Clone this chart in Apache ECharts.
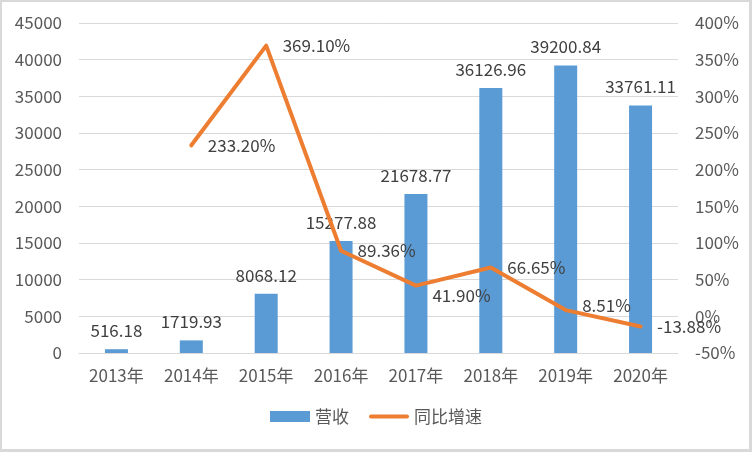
<!DOCTYPE html>
<html>
<head>
<meta charset="utf-8">
<script src="https://cdn.jsdelivr.net/npm/echarts@6/dist/echarts.min.js"></script>
<style>
html,body{margin:0;padding:0;background:#fff;}
#wrap{position:relative;width:752px;height:452px;}
#chart{position:absolute;left:0;top:0;width:752px;height:452px;}
#frame{position:absolute;left:0;top:0;width:752px;height:452px;box-sizing:border-box;border:2px solid #d9d9d9;border-right-width:3px;border-bottom-width:3px;pointer-events:none;}
</style>
</head>
<body>
<div id="wrap"><div id="chart"></div><div id="frame"></div></div>
<script>
const categories = ['2013年','2014年','2015年','2016年','2017年','2018年','2019年','2020年'];
const revenue = [516.18, 1719.93, 8068.12, 15277.88, 21678.77, 36126.96, 39200.84, 33761.11];
const growth = [null, 233.20, 369.10, 89.36, 41.90, 66.65, 8.51, -13.88];
const seriesNames = ['营收', '同比增速'];
const growthLabelOffset = [[0,0],[0,0],[0,0],[0,0],[0,10],[0,0],[0,-5],[0,0]];

const font = '"Noto Sans CJK SC", "Microsoft YaHei", sans-serif';
const chart = echarts.init(document.getElementById('chart'), null, {renderer:'canvas'});
chart.setOption({
  animation: false,
  textStyle: {fontFamily: font},
  grid: {left: 79, right: 74, top: 23, bottom: 99, containLabel: false},
  legend: {
    bottom: 22, left: 'center',
    itemWidth: 40, itemHeight: 11, itemGap: 20,
    textStyle: {fontFamily: font, fontSize: 17, color: '#595959'},
    data: [
      {name: seriesNames[0], icon: 'rect'},
      {name: seriesNames[1], icon: 'path://M2,0 L38,0 A2,2 0 0 1 38,4 L2,4 A2,2 0 0 1 2,0 Z', itemStyle: {color: '#ED7D31'}}
    ]
  },
  xAxis: {
    type: 'category', data: categories,
    axisLine: {show: true, lineStyle: {color: '#d9d9d9', width: 1}},
    axisTick: {show: false},
    axisLabel: {fontFamily: font, fontSize: 17, color: '#595959', margin: 14}
  },
  yAxis: [{
    type: 'value', min: 0, max: 45000, interval: 5000,
    axisLine: {show: false}, axisTick: {show: false},
    splitLine: {lineStyle: {color: '#d9d9d9', width: 1}},
    axisLabel: {fontFamily: font, fontSize: 17, color: '#595959', margin: 17, formatter: v => String(v)}
  }, {
    type: 'value', min: -50, max: 400, interval: 50,
    axisLine: {show: false}, axisTick: {show: false},
    splitLine: {show: false},
    axisLabel: {fontFamily: font, fontSize: 17, color: '#595959', margin: 17, formatter: v => v + '%'}
  }],
  series: [{
    name: seriesNames[0], type: 'bar', data: revenue, barWidth: 23,
    itemStyle: {color: '#5B9BD5'},
    label: {show: true, position: 'top', distance: 10, fontFamily: font, fontSize: 17, color: '#404040',
      formatter: p => p.value.toFixed(2)}
  }, {
    name: seriesNames[1], type: 'line', yAxisIndex: 1,
    data: growth.map((v, i) => ({value: v, label: {offset: growthLabelOffset[i]}})),
    symbol: 'circle', symbolSize: 1, showSymbol: true, connectNulls: false,
    lineStyle: {color: '#ED7D31', width: 4, cap: 'round', join: 'round'},
    itemStyle: {color: '#ED7D31'},
    label: {show: true, position: 'right', distance: 16, fontFamily: font, fontSize: 17, color: '#404040',
      formatter: p => (p.value == null ? '' : p.value.toFixed(2) + '%')}
  }]
});
</script>
</body>
</html>
